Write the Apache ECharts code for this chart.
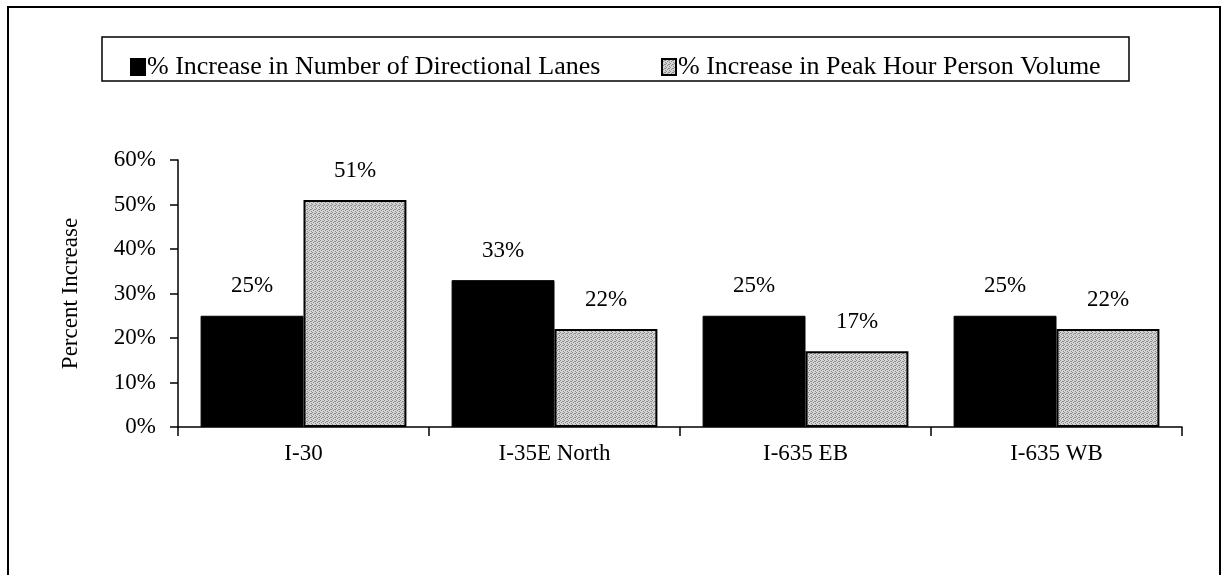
<!DOCTYPE html>
<html>
<head>
<meta charset="utf-8">
<script src="https://cdn.jsdelivr.net/npm/echarts@6/dist/echarts.min.js"></script>
<style>
  html, body { margin: 0; padding: 0; background: #fff; }
  #chart { width: 1224px; height: 575px; }
</style>
</head>
<body>
<div id="chart"></div>
<script>
// data
const categories = ['I-30', 'I-35E North', 'I-635 EB', 'I-635 WB']
const lanesIncrease = [25, 33, 25, 25]
const volumeIncrease = [51, 22, 17, 22]
const seriesNames = ['% Increase in Number of Directional Lanes', '% Increase in Peak Hour Person Volume']

const FONT = '"Liberation Serif", "Times New Roman", serif'

// speckled gray fill like the scanned pattern (fixed dither, no randomness)
const makePattern = () => {
    const c = document.createElement('canvas')
    c.width = 4
    c.height = 4
    const ctx = c.getContext('2d')
    ctx.fillStyle = '#d4d4d4'
    ctx.fillRect(0, 0, 4, 4)
    ctx.fillStyle = '#8c8c8c'
    const dots = [[0, 0], [2, 1], [1, 2], [3, 3], [3, 1]]
    dots.forEach(([x, y]) => ctx.fillRect(x, y, 1, 1))
    return c
}
const grayFill = { image: makePattern(), repeat: 'repeat' }

const labelStyle = {
    show: true,
    position: 'top',
    distance: 18,
    formatter: p => p.value + '%',
    fontFamily: FONT,
    fontSize: 23,
    color: '#000'
}

const legendText = { fontFamily: FONT, fontSize: 26, color: '#000', padding: [0, 0, 0, -3] }

const chart = echarts.init(document.getElementById('chart'))
chart.setOption({
    backgroundColor: '#fff',
    animation: false,
    textStyle: { fontFamily: FONT, color: '#000' },
    graphic: [
        // outer frame (bottom edge is cut off in the reference)
        { type: 'rect', shape: { x: 8, y: 7, width: 1212, height: 620 }, style: { fill: 'none', stroke: '#000', lineWidth: 2 } },
        // legend box
        { type: 'rect', shape: { x: 102, y: 37, width: 1027, height: 44 }, style: { fill: 'none', stroke: '#000', lineWidth: 1.5 } }
    ],
    legend: [
        {
            data: [seriesNames[0]],
            left: 125,
            top: 49,
            icon: 'rect',
            itemWidth: 14,
            itemHeight: 16,
            textStyle: legendText
        },
        {
            data: [seriesNames[1]],
            left: 656,
            top: 49,
            icon: 'rect',
            itemWidth: 14,
            itemHeight: 16,
            textStyle: legendText
        }
    ],
    grid: {
        left: 178,
        right: 42,
        top: 160,
        bottom: 148
    },
    xAxis: {
        type: 'category',
        data: categories,
        axisLine: { lineStyle: { color: '#000', width: 1.5 } },
        axisTick: { show: true, length: 9, lineStyle: { color: '#000', width: 1.5 } },
        axisLabel: { fontFamily: FONT, fontSize: 23, color: '#000', margin: 15 }
    },
    yAxis: {
        type: 'value',
        min: 0,
        max: 60,
        interval: 10,
        name: 'Percent Increase',
        nameLocation: 'middle',
        nameGap: 96,
        nameTextStyle: { fontFamily: FONT, fontSize: 23, color: '#000' },
        splitLine: { show: false },
        axisLine: { show: true, lineStyle: { color: '#000', width: 1.5 } },
        axisTick: { show: true, length: 8, lineStyle: { color: '#000', width: 1.5 } },
        axisLabel: { fontFamily: FONT, fontSize: 23, color: '#000', margin: 22, formatter: '{value}%' }
    },
    series: [
        {
            name: seriesNames[0],
            type: 'bar',
            data: lanesIncrease,
            barGap: '0%',
            barCategoryGap: '18%',
            itemStyle: { color: '#000', borderColor: '#000', borderWidth: 1 },
            label: labelStyle
        },
        {
            name: seriesNames[1],
            type: 'bar',
            data: volumeIncrease,
            itemStyle: { color: grayFill, borderColor: '#000', borderWidth: 2 },
            label: labelStyle
        }
    ]
})
</script>
</body>
</html>
